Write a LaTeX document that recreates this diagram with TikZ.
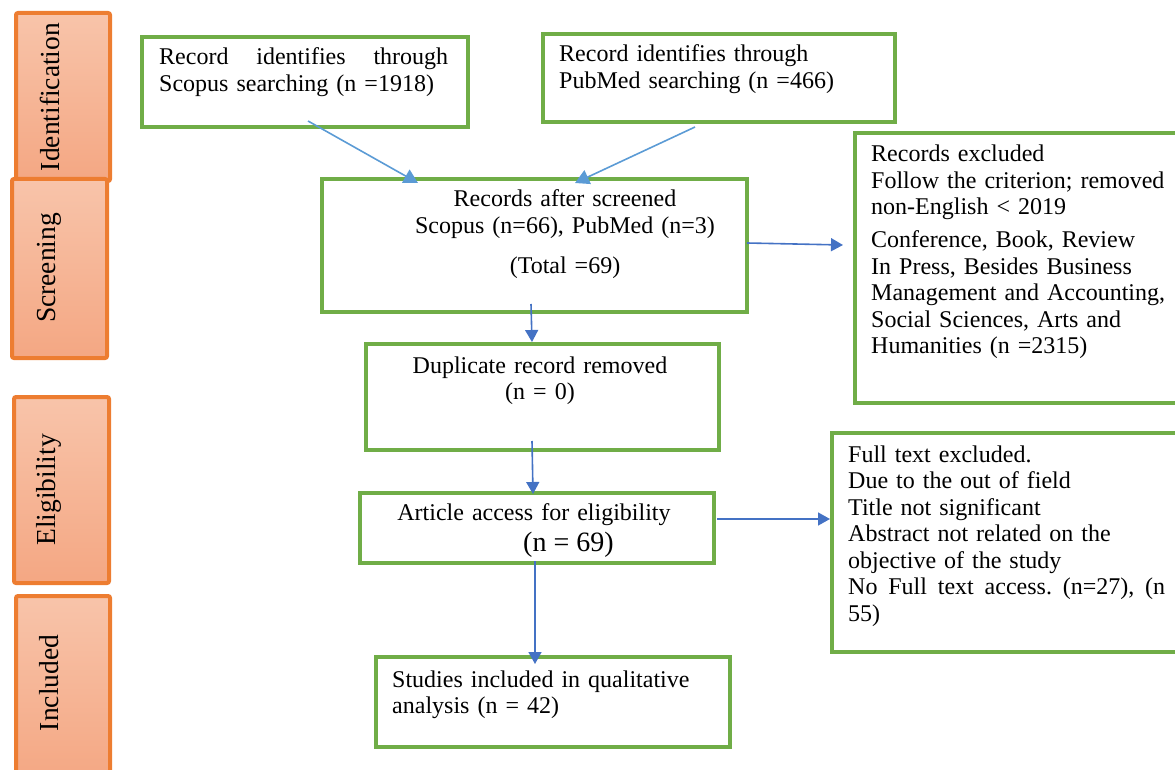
\documentclass[tikz,border=0pt]{standalone}
\usepackage{fontspec}
\setmainfont{Liberation Serif}
\usetikzlibrary{arrows.meta,calc}
\definecolor{gr}{HTML}{70AD47}
\definecolor{org}{HTML}{ED7D31}
\definecolor{ltb}{HTML}{5B9BD5}
\definecolor{dkb}{HTML}{4472C4}
\definecolor{otop}{HTML}{F8C4AA}
\definecolor{obot}{HTML}{F4A783}
\begin{document}
\begin{tikzpicture}[x=1pt,y=-1pt,
  gbox/.style={draw=gr,line width=4pt,inner sep=0pt,anchor=north west},
  obox/.style={draw=org,line width=4pt,top color=otop,bottom color=obot,rounded corners=2pt,inner sep=0pt,anchor=north west},
  lbl/.style={rotate=90,inner sep=0pt,font=\fontsize{27.5}{30}\selectfont},
  txt/.style={inner sep=0pt,font=\fontsize{24}{26.5}\selectfont,align=left,anchor=base west,text width=330pt},
  ctxt/.style={inner sep=0pt,font=\fontsize{24}{26.5}\selectfont,align=center,anchor=base,text width=420pt},
  la/.style={draw=ltb,line width=1.6pt,-{Triangle[length=14pt,width=15pt]}},
  da/.style={draw=dkb,line width=1.6pt,-{Triangle[length=12pt,width=13pt]}},
]
\useasboundingbox (0,0) rectangle (1175,770);
\clip (0,0) rectangle (1175,770);

% phase boxes
\node[obox,minimum width=94pt,minimum height=168pt] (idbox) at (14,11) {};
\node[obox,minimum width=95pt,minimum height=179pt] (scbox) at (10,177) {};
\node[obox,minimum width=95pt,minimum height=186pt] (elbox) at (12,395) {};
\node[obox,minimum width=94pt,minimum height=185pt] (inbox) at (14,594) {};
\node[lbl] (l1) at (50,97) {Identification};
\node[lbl] (l2) at (49,268) {Screening};
\node[lbl] (l3) at (49,490) {Eligibility};
\node[lbl] (l4) at (49,683) {Included};

% green boxes
\node[gbox,minimum width=326pt,minimum height=90pt] (scopus) at (140,35) {};
\node[gbox,minimum width=352pt,minimum height=88pt] (pubmed) at (541,32) {};
\node[gbox,minimum width=425pt,minimum height=133pt] (screened) at (320,177) {};
\node[gbox,minimum width=340pt,minimum height=270pt] (excl1) at (853,131) {};
\node[gbox,minimum width=353pt,minimum height=106pt] (dup) at (364,342) {};
\node[gbox,minimum width=354pt,minimum height=70pt] (article) at (358,491) {};
\node[gbox,minimum width=360pt,minimum height=219pt] (excl2) at (830,431) {};
\node[gbox,minimum width=354pt,minimum height=90pt] (studies) at (374,655) {};

% texts
\node[txt] (tscopus) at (159,65) {\makebox[289pt][l]{Record\hfill identifies\hfill through}\\Scopus searching (n =1918)};
\node[txt] (tpubmed) at (559,62) {Record identifies through\\PubMed searching (n =466)};
\node[ctxt] (tscreened) at (565,207) {Records after screened\\Scopus (n=66), PubMed (n=3)\\[13.5pt](Total =69)};
\node[txt] (texcl1) at (871,162) {Records excluded\\Follow the criterion; removed\\non-English < 2019\\[6.5pt]Conference, Book, Review\\In Press, Besides Business\\Management and Accounting,\\Social Sciences, Arts and\\Humanities (n =2315)};
\node[ctxt] (tdup) at (540,373) {Duplicate record removed\\(n = 0)};
\node[ctxt] (tarticle) at (534,520) {Article access for eligibility};
\node[inner sep=0pt,anchor=base west,font=\fontsize{28}{30}\selectfont] (tarticlen) at (523,551) {(n = 69)};
\node[txt] (texcl2) at (848,462) {Full text excluded.\\Due to the out of field\\Title not significant\\Abstract not related on the\\objective of the study\\\makebox[317pt][l]{No\hfill Full\hfill text\hfill access.\hfill (n=27),\hfill (n}\\55)};
\node[txt] (tstudies) at (392,687) {Studies included in qualitative\\analysis (n = 42)};

% connectors
\draw[la] ([shift={(168,-8)}]scopus.south west) -- ([shift={(98,6)}]screened.north west);
\draw[la] ([shift={(154,3)}]pubmed.south west) -- ([shift={(255,6)}]screened.north west);
\draw[da] ([shift={(-3.5,-10)}]screened.south) -- ([shift={(-10.5,0)}]dup.north);
\draw[da] ([shift={(-2,-2.5)}]screened.east) -- ([shift={(-10,-23)}]excl1.west);
\draw[da] ([shift={(-10.5,-11)}]dup.south) -- ([shift={(-4,3)}]article.north);
\draw[da] ([shift={(1,-9)}]article.east) -- ([shift={(0,-23.5)}]excl2.west);
\draw[da] ([shift={(-2,-4)}]article.south) -- ([shift={(-18,9)}]studies.north);
\end{tikzpicture}
\end{document}
